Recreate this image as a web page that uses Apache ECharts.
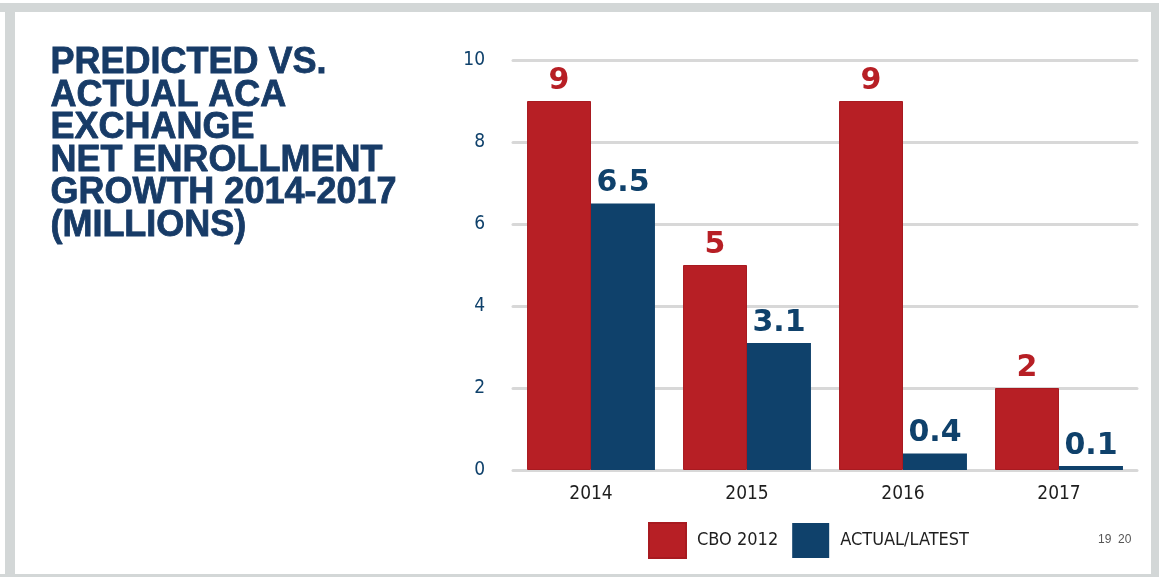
<!DOCTYPE html>
<html>
<head>
    <meta charset="UTF-8">
    <title>Predicted vs. Actual ACA Exchange Net Enrollment Growth</title>
    <script src="https://cdn.jsdelivr.net/npm/echarts@6/dist/echarts.min.js"></script>
    <style>
        html, body { margin: 0; padding: 0; background: #fff; }
        #main { width: 1159px; height: 577px; }
    </style>
</head>
<body>
<div id="main"></div>
<script type="text/javascript">
    // data
    var years = ['2014', '2015', '2016', '2017'];
    var cbo2012 = [9, 5, 9, 2];
    var actualLatest = [6.5, 3.1, 0.4, 0.1];
    var yTicks = [0, 2, 4, 6, 8, 10];
    var titleLines = ['PREDICTED VS.', 'ACTUAL ACA', 'EXCHANGE', 'NET ENROLLMENT', 'GROWTH 2014-2017', '(MILLIONS)'];

    var RED = '#b71f25';
    var BLUE = '#0f416b';
    var FRAME = '#d3d7d7';
    var narrow = '"DejaVu Sans Condensed", "Liberation Sans Narrow", sans-serif';

    var myChart = echarts.init(document.getElementById('main'));

    // bar value labels
    function valueLabel(color) {
        return {
            show: true, position: 'top', distance: 5,
            fontFamily: '"DejaVu Sans", sans-serif', fontWeight: 'bold', fontSize: 30, color: color
        };
    }

    var option = {
        animation: false,
        backgroundColor: '#fff',
        grid: { left: 513, top: 60, width: 624, height: 410, containLabel: false },
        legend: {
            left: 643, top: 517,
            itemWidth: 37, itemHeight: 35, itemGap: 14,
            icon: 'rect',
            textStyle: { fontFamily: narrow, fontSize: 18, color: '#1e1e1e', padding: [0, 0, 0, 6] },
            data: ['CBO 2012', 'ACTUAL/LATEST']
        },
        xAxis: {
            type: 'category',
            data: years,
            axisLine: { show: false },
            axisTick: { show: false },
            axisLabel: { fontFamily: narrow, fontSize: 19, color: '#1e1e1e', margin: 15 }
        },
        yAxis: {
            type: 'value',
            min: yTicks[0], max: yTicks[yTicks.length - 1], interval: 2,
            axisLine: { show: false },
            axisTick: { show: false },
            axisLabel: { fontFamily: narrow, fontSize: 19, color: BLUE, margin: 28 },
            splitLine: { lineStyle: { color: '#d8d8d8', width: 3, cap: 'round' } }
        },
        series: [
            {
                name: 'CBO 2012',
                type: 'bar',
                data: cbo2012,
                barGap: '0%',
                barCategoryGap: '18%',
                itemStyle: { color: RED, borderColor: '#a81a20', borderWidth: 1 },
                label: valueLabel(RED)
            },
            {
                name: 'ACTUAL/LATEST',
                type: 'bar',
                data: actualLatest,
                itemStyle: { color: BLUE },
                label: valueLabel(BLUE)
            }
        ],
        graphic: [
            // page frame
            { type: 'rect', silent: true, z: -1, shape: { x: 0, y: 3, width: 1159, height: 9 }, style: { fill: FRAME } },
            { type: 'rect', silent: true, z: -1, shape: { x: 5, y: 3, width: 10, height: 574 }, style: { fill: FRAME } },
            { type: 'rect', silent: true, z: -1, shape: { x: 1151, y: 3, width: 8, height: 574 }, style: { fill: FRAME } },
            { type: 'rect', silent: true, z: -1, shape: { x: 0, y: 574, width: 1159, height: 3 }, style: { fill: FRAME } },
            {
                type: 'text', left: 50, top: 45,
                style: {
                    text: titleLines.join('\n'),
                    fill: '#173b67',
                    stroke: '#173b67',
                    lineWidth: 0.8,
                    font: '900 36px "Liberation Sans", "DejaVu Sans", sans-serif',
                    lineHeight: 32.5
                }
            },
            {
                type: 'text', left: 1098, top: 534,
                style: { text: '19  20', fill: '#555', font: '12px "Liberation Sans", sans-serif' }
            }
        ]
    };

    myChart.setOption(option);
</script>
</body>
</html>
